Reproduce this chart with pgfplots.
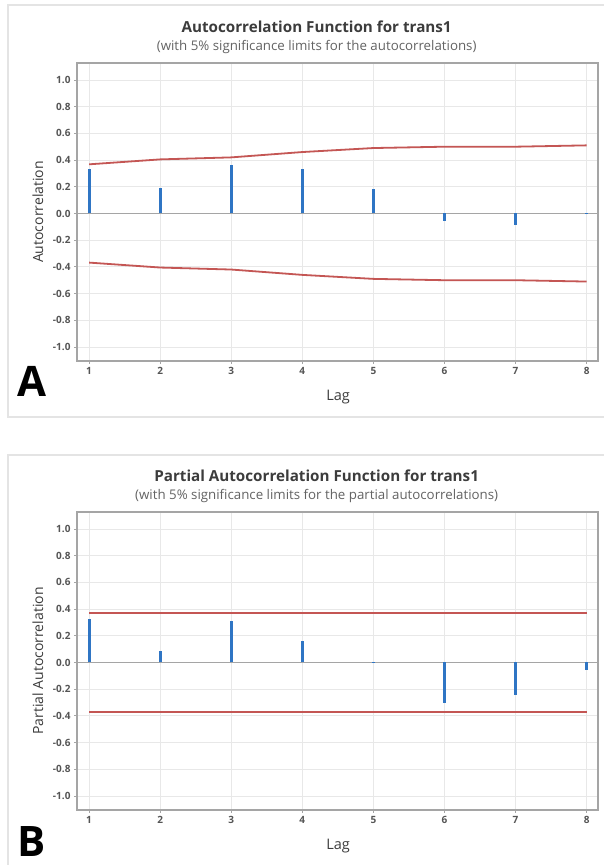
\documentclass[border=0pt]{standalone}
\usepackage{fontspec}
\setmainfont{Open Sans}
\usepackage{pgfplots}
\pgfplotsset{compat=1.18}

\definecolor{stem}{RGB}{47,117,196}
\definecolor{lim}{RGB}{196,86,84}
\definecolor{frm}{RGB}{165,165,165}
\definecolor{grd}{RGB}{232,232,232}
\definecolor{txt}{RGB}{60,60,60}
\definecolor{tck}{RGB}{85,85,85}
\definecolor{panel}{RGB}{228,228,228}

\pgfplotsset{
  acf/.style={
    scale only axis, width=521pt, height=298pt,
    xmin=0.83, xmax=8.16, ymin=-1.105, ymax=1.127,
    xtick={1,2,3,4,5,6,7,8},
    ytick={-1,-0.8,-0.6,-0.4,-0.2,0,0.2,0.4,0.6,0.8,1},
    grid=major, grid style={grd, line width=0.8pt},
    axis line style={frm, line width=1.3pt},
    tick style={frm, line width=0.8pt}, tick align=outside, tick pos=left,
    major tick length=3pt,
    ticklabel style={font=\bfseries\fontsize{10}{11}\selectfont, text=tck},
    yticklabel style={/pgf/number format/.cd, fixed, fixed zerofill, precision=1, assume math mode=true},
    xticklabel style={/pgf/number format/assume math mode=true},
    xlabel={Lag},
    xlabel style={font=\fontsize{14.5}{16}\selectfont, text=txt, at={(axis description cs:0.501,-0.121)}, anchor=center},
    ylabel style={font=\fontsize{14}{16}\selectfont, text=txt, at={(axis description cs:-0.075,0.5)}, anchor=center, rotate=0},
    clip=false,
  },
  stemplot/.style={ycomb, color=stem, line width=3pt, mark=none},
  limplot/.style={color=lim, line width=1.8pt, mark=none},
  zeroline/.style={color=frm, line width=1.5pt, mark=none},
}

\begin{document}
\begin{tikzpicture}[x=1pt, y=1pt]
\useasboundingbox (0,0) rectangle (603,865);
\fill[white] (0,0) rectangle (603,865);
% panel frames
\draw[panel, line width=1.5pt] (8,448) rectangle (610,860);
\draw[panel, line width=1.5pt] (8,-10) rectangle (610,410);

% ---- A: ACF
\begin{axis}[acf, at={(77pt,504pt)}, anchor=south west, ylabel={Autocorrelation}]
\addplot[zeroline] coordinates {(0.83,0) (8.16,0)};
\addplot[limplot] coordinates {(1,0.368) (2,0.405) (3,0.42) (4,0.46) (5,0.49) (6,0.50) (7,0.50) (8,0.51)};
\addplot[limplot] coordinates {(1,-0.368) (2,-0.405) (3,-0.42) (4,-0.46) (5,-0.49) (6,-0.50) (7,-0.50) (8,-0.51)};
\addplot[stemplot] coordinates {(1,0.33) (2,0.19) (3,0.36) (4,0.33) (5,0.18) (6,-0.06) (7,-0.09) (8,0.005)};
\node[font=\bfseries\fontsize{15.2}{17}\selectfont, text=txt] at (axis description cs:0.46,1.12) {Autocorrelation Function for trans1};
\node[font=\fontsize{13.3}{15}\selectfont, text=txt!80] at (axis description cs:0.46,1.053) {(with 5\% significance limits for the autocorrelations)};
\end{axis}
\node[font=\bfseries\fontsize{42}{46}\selectfont, anchor=base west, inner sep=0pt] at (17,468) {A};

% ---- B: PACF
\begin{axis}[acf, at={(77pt,55pt)}, anchor=south west, ylabel={Partial Autocorrelation}]
\addplot[zeroline] coordinates {(0.83,0) (8.16,0)};
\addplot[limplot] coordinates {(1,0.369) (2,0.369) (3,0.369) (4,0.369) (5,0.369) (6,0.369) (7,0.369) (8,0.369)};
\addplot[limplot] coordinates {(1,-0.369) (2,-0.369) (3,-0.369) (4,-0.369) (5,-0.369) (6,-0.369) (7,-0.369) (8,-0.369)};
\addplot[stemplot] coordinates {(1,0.327) (2,0.083) (3,0.307) (4,0.159) (5,0.005) (6,-0.30) (7,-0.244) (8,-0.058)};
\node[font=\bfseries\fontsize{15.2}{17}\selectfont, text=txt] at (axis description cs:0.46,1.12) {Partial Autocorrelation Function for trans1};
\node[font=\fontsize{13.3}{15}\selectfont, text=txt!80] at (axis description cs:0.46,1.053) {(with 5\% significance limits for the partial autocorrelations)};
\end{axis}
\node[font=\bfseries\fontsize{42}{46}\selectfont, anchor=base west, inner sep=0pt] at (17,9) {B};
\end{tikzpicture}
\end{document}
